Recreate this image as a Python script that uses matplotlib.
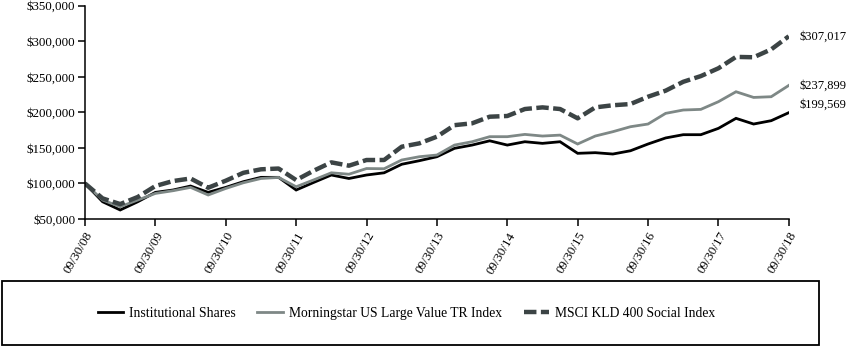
import matplotlib
matplotlib.use("Agg")
import matplotlib.pyplot as plt
from matplotlib.patches import Rectangle
from matplotlib.ticker import FuncFormatter, MultipleLocator

plt.rcParams['font.family'] = ['Liberation Serif', 'DejaVu Serif']

# Quarterly values, 09/30/08 .. 09/30/18 (41 points)
institutional = [100000, 74300, 62700, 74300, 87500, 90800, 96400, 87500, 94500, 102500,
                 108600, 108600, 90800, 101500, 111900, 107000, 111900, 115000, 127000, 132000,
                 137600, 149400, 154000, 160000, 154000, 158700, 156400, 158700, 142400, 143300,
                 141400, 146000, 155500, 164000, 168600, 168600, 177500, 191600, 183600, 188300,
                 199569]
morningstar = [100000, 76700, 67300, 76700, 86000, 89800, 94500, 83800, 93000, 101000,
               107000, 108500, 95400, 105000, 115000, 113000, 121000, 120700, 133000, 137600,
               140000, 154000, 158700, 165800, 165800, 169000, 166700, 168000, 155500, 166700,
               172800, 179800, 183600, 198600, 203300, 204200, 215000, 229000, 221000, 222000,
               237899]
msci = [100000, 79000, 71000, 81000, 96400, 103400, 107000, 94000, 103900, 115000,
        119900, 121000, 104800, 118000, 129700, 125000, 133000, 133000, 151700, 156400,
        165800, 182000, 184600, 193900, 194900, 204700, 207000, 204700, 191600, 207000,
        210000, 211700, 222000, 230500, 243000, 251000, 262000, 278000, 277500, 288600,
        307017]
tick_labels = ["09/30/08", "09/30/09", "09/30/10", "09/30/11", "09/30/12", "09/30/13",
               "09/30/14", "09/30/15", "09/30/16", "09/30/17", "09/30/18"]
series_names = ["Institutional Shares", "Morningstar US Large Value TR Index",
                "MSCI KLD 400 Social Index"]
end_labels = ["$199,569", "$237,899", "$307,017"]

x = list(range(len(institutional)))

fig = plt.figure(figsize=(8.5, 3.46), dpi=100)
ax = fig.add_axes([0.1, 0.367, 0.828, 0.6165])

l1, = ax.plot(x, institutional, color='#000000', lw=2.0, solid_joinstyle='miter')
l2, = ax.plot(x, morningstar, color='#7e8886', lw=2.0, solid_joinstyle='miter')
l3, = ax.plot(x, msci, color='#3c4445', lw=3.2, linestyle=(0, (2.8, 1.0)))

ax.set_xlim(0, 40)
ax.set_ylim(50000, 350000)
ax.yaxis.set_major_locator(MultipleLocator(50000))
ax.yaxis.set_major_formatter(FuncFormatter(lambda v, p: "${:,.0f}".format(v)))
ax.set_xticks(list(range(0, 41, 4)))
ax.set_xticklabels(tick_labels, rotation=60, ha='right', rotation_mode='anchor')

for s in ['top', 'right']:
    ax.spines[s].set_visible(False)
for s in ['left', 'bottom']:
    ax.spines[s].set_linewidth(1.1)
ax.tick_params(axis='both', direction='out', length=5, width=1.1, labelsize=9.4, pad=2)
ax.tick_params(axis='x', pad=3)

offsets = [6, 0, 0]
for vals, lab, off in zip([institutional, morningstar, msci], end_labels, offsets):
    ax.annotate(lab, xy=(x[-1], vals[-1]), xytext=(8, off), textcoords='offset points',
                va='center', ha='left', fontsize=9, annotation_clip=False)

# Legend box
fig.patches.append(Rectangle((0.002, 0.003), 0.962, 0.185, transform=fig.transFigure,
                             fill=False, edgecolor='black', lw=1.3))
fig.legend([l1, l2, l3], series_names, loc='center', bbox_to_anchor=(0.478, 0.095),
           ncol=3, frameon=False, fontsize=9.8, handlelength=1.9, handletextpad=0.4,
           columnspacing=1.6)

fig.savefig("out.png", dpi=100)
